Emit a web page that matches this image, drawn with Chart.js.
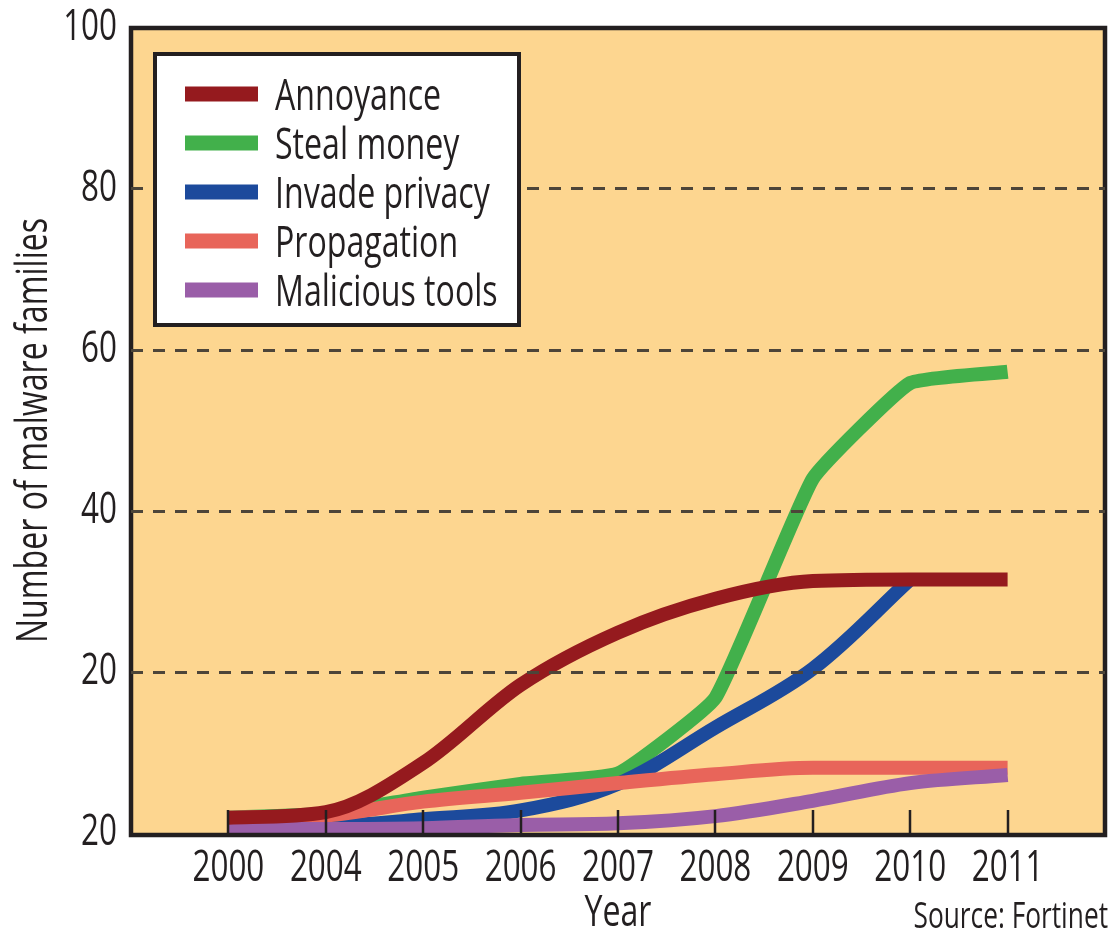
<!DOCTYPE html>
<html>
<head>
<meta charset="utf-8">
<script src="https://cdn.jsdelivr.net/npm/chart.js@4.4.1/dist/chart.umd.min.js"></script>
<style>
  html, body { margin: 0; padding: 0; background: #ffffff; }
  #wrap { width: 1111px; height: 932px; }
</style>
</head>
<body>
<div id="wrap"><canvas id="chart" width="1111" height="932"></canvas></div>
<script>
// Malware families by purpose, 2000-2011
const years = ['2000', '2004', '2005', '2006', '2007', '2008', '2009', '2010', '2011'];
const annoyance      = [1.9, 2.6, 8.7, 18.4, 24.9, 29.1, 31.3, 31.5, 31.5];
const stealMoney     = [1.9, 2.4, 4.4, 6.1, 7.4, 16.8, 44.0, 55.9, 57.3];
// the privacy line runs into the annoyance line at 2010
const invadePrivacy  = [0.6, 0.8, 1.7, 2.8, 6.1, 13.1, 20.4, 31.5, null];
const propagation    = [1.9, 2.2, 3.9, 5.0, 6.2, 7.3, 8.1, 8.1, 8.1];
const maliciousTools = [0.5, 0.5, 0.6, 1.0, 1.2, 2.1, 4.0, 6.2, 7.2];
const yTickLabels = ['20', '20', '40', '60', '80', '100'];

const FONT = "'Open Sans', 'Noto Sans', sans-serif";
const INK = '#231f20';
const PLOT_BG = '#fdd690';
const TEXT_SQUEEZE = 0.73;   // condensed lettering

// one empty slot on each side of the year categories
const xLabels = [''].concat(years, ['']);
const pad = arr => [null].concat(arr, [null]);

function series(label, values, color, order, mode, tension) {
  return {
    label: label,
    data: pad(values),
    borderColor: color,
    backgroundColor: color,
    borderWidth: 14,
    borderCapStyle: 'butt',
    borderJoinStyle: 'round',
    pointRadius: 0,
    pointHoverRadius: 0,
    fill: false,
    cubicInterpolationMode: mode,
    tension: tension,
    order: order
  };
}

const canvas = document.getElementById('chart');
const ctx2d = canvas.getContext('2d');
// narrow every glyph run horizontally around its anchor point
const baseFillText = ctx2d.fillText.bind(ctx2d);
ctx2d.fillText = function (text, x, y, maxWidth) {
  this.save();
  this.translate(x, y);
  this.scale(TEXT_SQUEEZE, 1);
  if (maxWidth !== undefined) baseFillText(text, 0, 0, maxWidth / TEXT_SQUEEZE);
  else baseFillText(text, 0, 0);
  this.restore();
};

const plotBackground = {
  id: 'plotBackground',
  beforeDraw(chart) {
    const { ctx, chartArea: a } = chart;
    ctx.save();
    ctx.fillStyle = PLOT_BG;
    ctx.fillRect(a.left, a.top, a.right - a.left, a.bottom - a.top);
    ctx.restore();
  }
};

const frameAndTicks = {
  id: 'frameAndTicks',
  afterDatasetsDraw(chart) {
    const { ctx, chartArea: a } = chart;
    const xs = chart.scales.x;
    ctx.save();
    ctx.strokeStyle = INK;
    ctx.lineWidth = 2.5;
    years.forEach((y, i) => {
      const px = Math.round(xs.getPixelForValue(i + 1));
      ctx.beginPath();
      ctx.moveTo(px, a.bottom - 23);
      ctx.lineTo(px, a.bottom + 1);
      ctx.stroke();
    });
    ctx.lineWidth = 4.5;
    ctx.strokeRect(a.left, a.top, a.right - a.left, a.bottom - a.top + 2);
    ctx.restore();
  }
};

const legendBox = {
  id: 'legendBox',
  afterDraw(chart) {
    const { ctx } = chart;
    const box = { x: 155, y: 54, w: 364, h: 271 };
    ctx.save();
    ctx.fillStyle = '#ffffff';
    ctx.fillRect(box.x, box.y, box.w, box.h);
    ctx.strokeStyle = INK;
    ctx.lineWidth = 4;
    ctx.strokeRect(box.x, box.y, box.w, box.h);
    ctx.font = "44px " + FONT;
    ctx.textBaseline = 'alphabetic';
    ctx.textAlign = 'left';
    chart.data.datasets.forEach((ds, i) => {
      const cy = 94 + i * 49;
      ctx.fillStyle = ds.borderColor;
      ctx.fillRect(185, cy - 7.5, 73, 15);
      ctx.fillStyle = INK;
      ctx.fillText(ds.label, 275, cy + 16);
    });
    ctx.restore();
  }
};

const sourceNote = {
  id: 'sourceNote',
  afterDraw(chart) {
    const { ctx } = chart;
    ctx.save();
    ctx.font = "36px " + FONT;
    ctx.fillStyle = INK;
    ctx.textAlign = 'right';
    ctx.textBaseline = 'alphabetic';
    ctx.fillText('Source: Fortinet', 1108, 928);
    ctx.restore();
  }
};

Chart.defaults.font.family = FONT;
Chart.defaults.color = INK;

new Chart(canvas, {
  type: 'line',
  data: {
    labels: xLabels,
    datasets: [
      series('Annoyance', annoyance, '#951a1e', 0, 'monotone', 0.4),
      series('Steal money', stealMoney, '#42b04b', 4, 'default', 0.12),
      series('Invade privacy', invadePrivacy, '#1c4a9c', 3, 'default', 0.35),
      series('Propagation', propagation, '#e8655a', 2, 'monotone', 0.4),
      series('Malicious tools', maliciousTools, '#9a5ea8', 1, 'monotone', 0.4)
    ]
  },
  options: {
    responsive: false,
    animation: false,
    events: [],
    layout: { padding: { top: 28, right: 6, left: 0, bottom: 0 } },
    plugins: {
      legend: { display: false },
      tooltip: { enabled: false }
    },
    scales: {
      x: {
        type: 'category',
        offset: false,
        grid: { display: false, drawTicks: false },
        border: { display: false },
        ticks: {
          autoSkip: false,
          maxRotation: 0,
          padding: 10,
          color: INK,
          font: { size: 43 }
        },
        title: {
          display: true,
          text: 'Year',
          color: INK,
          font: { size: 44, lineHeight: 0.86 },
          padding: { top: 0, bottom: 0 }
        },
        afterFit(scale) { scale.height = 99; scale.paddingLeft = 0; scale.paddingRight = 0; }
      },
      y: {
        min: 0,
        max: 100,
        grid: {
          drawTicks: false,
          lineWidth: 3,
          z: 1,
          color: c => (c.tick && c.tick.value > 0 && c.tick.value < 100) ? '#4d4539' : 'rgba(0,0,0,0)'
        },
        border: { display: false, dash: [12, 10] },
        ticks: {
          stepSize: 20,
          padding: 14,
          color: INK,
          font: { size: 43 },
          callback: v => yTickLabels[Math.round(v / 20)]
        },
        title: {
          display: true,
          text: 'Number of malware families',
          color: INK,
          font: { size: 44, lineHeight: 1.2 },
          padding: { top: 8, bottom: 0 }
        },
        afterFit(scale) { scale.width = 131; scale.paddingTop = 0; scale.paddingBottom = 0; }
      }
    }
  },
  plugins: [plotBackground, frameAndTicks, legendBox, sourceNote]
});
</script>
</body>
</html>
